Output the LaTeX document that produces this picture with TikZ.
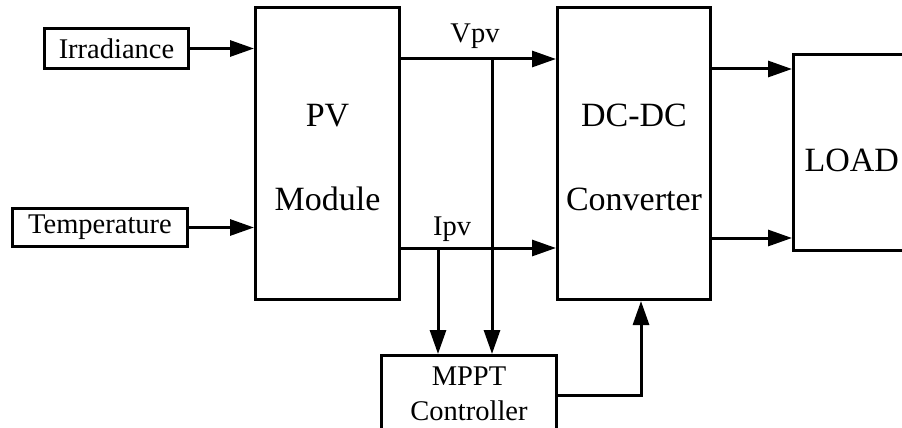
\documentclass[tikz,border=0pt]{standalone}
\usepackage{fontspec}
\setmainfont{Liberation Serif}
\usetikzlibrary{positioning,arrows.meta,calc}

\begin{document}
\begin{tikzpicture}[
  x=1pt, y=-1pt, line width=3pt, >={Triangle[length=24pt, width=16pt]},
  inbox/.style={draw, rectangle, inner sep=0pt, font=\fontsize{28.5}{35}\selectfont},
  bigbox/.style={draw, rectangle, inner sep=0pt, align=center, text height=115pt,
                 font=\fontsize{34}{84}\selectfont},
  sig/.style={font=\fontsize{28.5}{35}\selectfont, anchor=base},
  arr/.style={->},
]
% fixed frame, boxes on the right and bottom run off the edge
\clip (0,0) rectangle (902,428);
\fill[white] (0,0) rectangle (902,428);

% inputs
\node[inbox, minimum width=144pt, minimum height=40pt] (irr)  at (116.5,48.5) {Irradiance};
\node[inbox, minimum width=175pt, minimum height=38pt] (temp) at (100,227.5) {Temperature};

% main chain
\node[bigbox, minimum width=144pt, minimum height=292pt] (pv)   at (327.5,153.5) {PV\\Module};
\node[bigbox, minimum width=153pt, minimum height=292pt] (dc)   at (634,153.5) {DC-DC\\Converter};
\node[bigbox, minimum width=116.5pt, minimum height=196pt, text height=39pt] (load) at (851.75,152.5) {LOAD};
\node[inbox, align=center, minimum width=175pt, minimum height=76.5pt] (mppt) at (469,393.75) {MPPT\\Controller};

% tap points
\coordinate (vtap)  at (492,59);
\coordinate (itap)  at (438,248);
\coordinate (outA)  at (712,69);
\coordinate (outB)  at (712,238);
\coordinate (mpout) at (641,395);

\node[sig] (vpv) at (475,43) {Vpv};
\node[sig] (ipv) at (452,235) {Ipv};

\draw[arr] (irr.east) -- (irr -| pv.west);
\draw[arr] (temp.east) -- (temp -| pv.west);

\draw[arr] (pv.east |- vtap) -- (vtap -| dc.west);
\draw[arr] (pv.east |- itap) -- (itap -| dc.west);
\draw[arr] (vtap) -- (vtap |- mppt.north);
\draw[arr] (itap) -- (itap |- mppt.north);

\draw[arr] (dc.east |- outA) -- (outA -| load.west);
\draw[arr] (dc.east |- outB) -- (outB -| load.west);

\draw[arr] (mppt.east |- mpout) -| (mpout |- dc.south);
\end{tikzpicture}
\end{document}
